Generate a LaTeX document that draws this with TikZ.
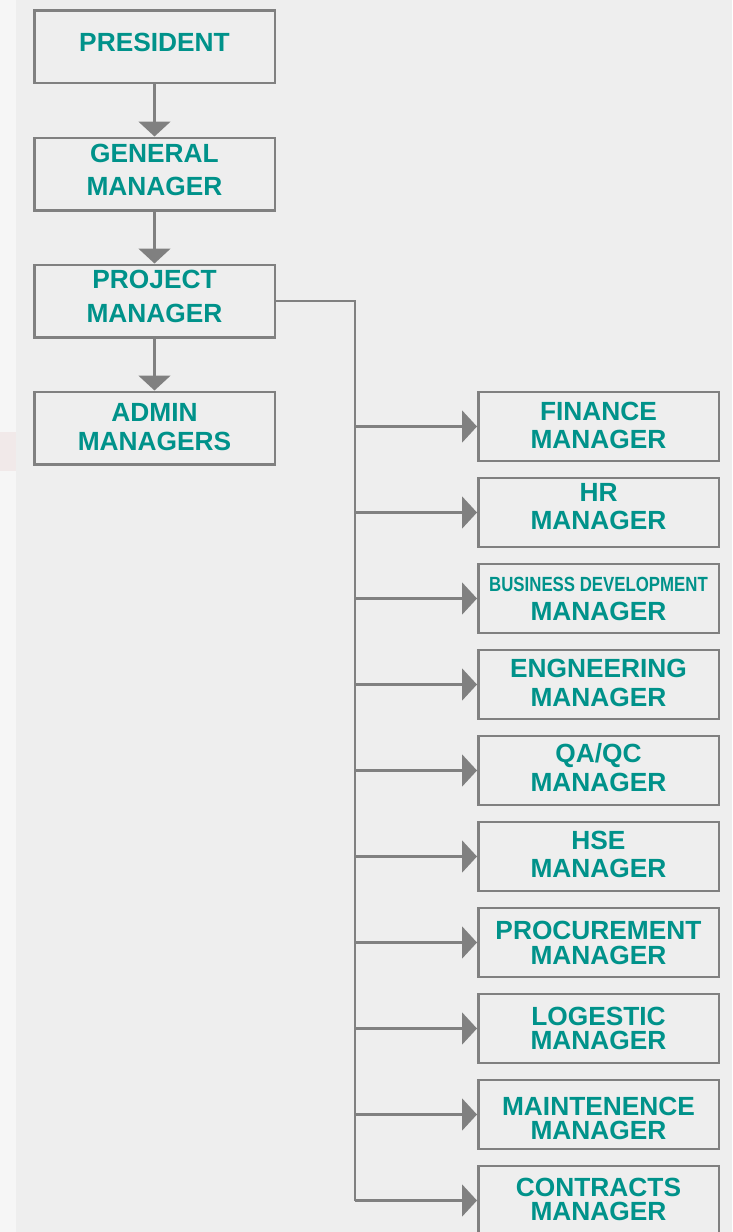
\documentclass[tikz,border=0pt]{standalone}
\usepackage{fontspec}
\setmainfont{Liberation Sans}
\newfontfamily\narrowfont[FakeStretch=0.82]{Liberation Sans}
\usetikzlibrary{arrows.meta}
\definecolor{tealtext}{RGB}{0,146,138}
\definecolor{bordergray}{RGB}{128,128,128}
\definecolor{bgmain}{RGB}{238,238,238}
\definecolor{bgstrip}{RGB}{246,246,246}
\definecolor{bgband}{RGB}{241,233,233}
\begin{document}
\begin{tikzpicture}[x=1pt,y=-1pt,
  lbox/.style={draw=bordergray, line width=2.5pt, minimum width=240.5pt, minimum height=72.5pt, inner sep=0pt},
  rbox/.style={draw=bordergray, line width=2.5pt, minimum width=240.5pt, minimum height=69pt, inner sep=0pt},
  lbl/.style={text=tealtext, align=center, inner sep=0pt, font=\bfseries\fontsize{26.3}{#1}\selectfont},
  conn/.style={draw=bordergray, line width=2.2pt},
  arr/.style={draw=bordergray, line width=2.2pt, -{Triangle[length=15pt,width=32pt]}}]
\clip (0,0) rectangle (732,1232);
\fill[bgmain] (0,0) rectangle (732,1232);
\fill[bgstrip] (0,0) rectangle (16,1232);
\fill[bgband] (0,432) rectangle (16,471);
% left column
\node[lbox] (pres) at (154.5,46.5) {};
\node[lbl=30pt] (pres-t) at (154.5,42) {PRESIDENT};
\node[lbox] (gm) at (154.5,174) {};
\node[lbl=33pt] (gm-t) at (154.5,169.5) {GENERAL\\MANAGER};
\node[lbox] (pm) at (154.5,301) {};
\node[lbl=34pt] (pm-t) at (154.5,296) {PROJECT\\MANAGER};
\node[lbox] (am) at (154.5,428) {};
\node[lbl=29pt] (am-t) at (154.5,427.5) {ADMIN\\MANAGERS};
\draw[arr] (pres.south) -- (gm.north);
\draw[arr] (gm.south) -- (pm.north);
\draw[arr] (pm.south) -- (am.north);
% right column
\node[rbox] (fin) at (598.5,426.5) {};
\node[lbl=28pt] (fin-t) at (598.5,425) {FINANCE\\MANAGER};
\node[rbox] (hr) at (598.5,512.5) {};
\node[lbl=28pt] (hr-t) at (598.5,507) {HR\\MANAGER};
\node[rbox] (bd) at (598.5,598.5) {};
\node[text=tealtext, inner sep=0pt, font=\narrowfont\bfseries\fontsize{20.5}{22}\selectfont] (bd-t1) at (598.5,584) {BUSINESS DEVELOPMENT};
\node[lbl=28pt] (bd-t2) at (598.5,611) {MANAGER};
\node[rbox] (eng) at (598.5,684.5) {};
\node[lbl=29pt] (eng-t) at (598.5,682.5) {ENGNEERING\\MANAGER};
\node[rbox] (qa) at (598.5,770.5) {};
\node[lbl=29pt] (qa-t) at (598.5,767.5) {QA/QC\\MANAGER};
\node[rbox] (hse) at (598.5,856.5) {};
\node[lbl=28pt] (hse-t) at (598.5,854) {HSE\\MANAGER};
\node[rbox] (proc) at (598.5,942.5) {};
\node[lbl=25pt] (proc-t) at (598.5,942.5) {PROCUREMENT\\MANAGER};
\node[rbox] (log) at (598.5,1028.5) {};
\node[lbl=24pt] (log-t) at (598.5,1028) {LOGESTIC\\MANAGER};
\node[rbox] (mnt) at (598.5,1114.5) {};
\node[lbl=24pt] (mnt-t) at (598.5,1118) {MAINTENENCE\\MANAGER};
\node[rbox] (con) at (598.5,1200.5) {};
\node[lbl=24pt] (con-t) at (598.5,1199.5) {CONTRACTS\\MANAGER};
% connectors
\coordinate (tk) at (355,301);
\draw[conn, line join=miter] (pm.east) -- (tk) -- (tk |- con.west);
\foreach \n in {fin,hr,bd,eng,qa,hse,proc,log,mnt,con}
  \draw[arr] (tk |- \n.west) -- (\n.west);
\end{tikzpicture}
\end{document}
